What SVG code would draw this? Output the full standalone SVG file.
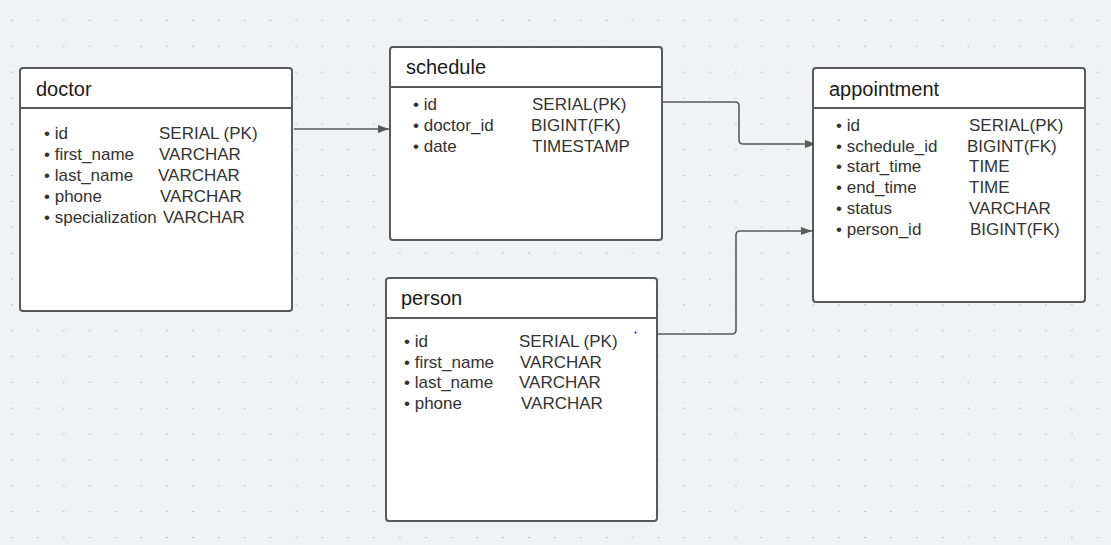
<svg xmlns="http://www.w3.org/2000/svg" width="1111" height="545" viewBox="0 0 1111 545">
<style>
.box{fill:#fff;stroke:#5a5a5a;stroke-width:2}
.hdr{stroke:#5a5a5a;stroke-width:2}
.title{font-family:"Liberation Sans",Arial,sans-serif;font-size:20px;fill:#1a1a1a}
.f{font-family:"Liberation Sans",Arial,sans-serif;font-size:17px;fill:#333}
.conn{fill:none;stroke:#5a5a5a;stroke-width:1.6;stroke-linejoin:round}
</style>
<defs>
<pattern id="grid" x="12" y="20" width="25.85" height="25.85" patternUnits="userSpaceOnUse">
<rect x="-0.7" y="-0.7" width="1.4" height="1.4" fill="#8a8a8a"/>
<rect x="25.15" y="-0.7" width="1.4" height="1.4" fill="#8a8a8a"/>
</pattern>
<marker id="arr" viewBox="0 0 11 8" refX="11" refY="4" markerWidth="11" markerHeight="8" markerUnits="userSpaceOnUse" orient="auto">
<path d="M0,0 L11,4 L0,8 z" fill="#5a5a5a"/>
</marker>
</defs>
<rect width="1111" height="545" fill="#f1f2f5"/>
<rect width="1111" height="545" fill="url(#grid)"/>

<g id="connectors">
<path class="conn" d="M294,129 H389" marker-end="url(#arr)"/>
<path class="conn" d="M662,102 H735 Q739,102 739,106 V140 Q739,144 743,144 H816" marker-end="url(#arr)"/>
<path class="conn" d="M658,334 H732 Q736,334 736,330 V235 Q736,231 740,231 H812" marker-end="url(#arr)"/>
</g>

<g id="doctor">
<rect class="box" x="20" y="68" width="272" height="243" rx="3"/>
<line class="hdr" x1="20" y1="108" x2="292" y2="108"/>
<text class="title" x="36" y="96">doctor</text>
<text class="f" x="44" y="139">• id</text><text class="f" x="159" y="139">SERIAL (PK)</text>
<text class="f" x="44" y="160">• first_name</text><text class="f" x="159" y="160">VARCHAR</text>
<text class="f" x="44" y="181">• last_name</text><text class="f" x="158" y="181">VARCHAR</text>
<text class="f" x="44" y="202">• phone</text><text class="f" x="160" y="202">VARCHAR</text>
<text class="f" x="44" y="223">• specialization</text><text class="f" x="163" y="223">VARCHAR</text>
</g>

<g id="schedule">
<rect class="box" x="390" y="47" width="272" height="193" rx="3"/>
<line class="hdr" x1="390" y1="87" x2="662" y2="87"/>
<text class="title" x="406" y="74">schedule</text>
<text class="f" x="413" y="110">• id</text><text class="f" x="532" y="110">SERIAL(PK)</text>
<text class="f" x="413" y="131">• doctor_id</text><text class="f" x="531" y="131">BIGINT(FK)</text>
<text class="f" x="413" y="152">• date</text><text class="f" x="532" y="152">TIMESTAMP</text>
</g>

<g id="appointment">
<rect class="box" x="813" y="68" width="272" height="234" rx="3"/>
<line class="hdr" x1="813" y1="108" x2="1085" y2="108"/>
<text class="title" x="829" y="96">appointment</text>
<text class="f" x="836" y="131">• id</text><text class="f" x="969" y="131">SERIAL(PK)</text>
<text class="f" x="836" y="152">• schedule_id</text><text class="f" x="967" y="152">BIGINT(FK)</text>
<text class="f" x="836" y="172">• start_time</text><text class="f" x="969" y="172">TIME</text>
<text class="f" x="836" y="193">• end_time</text><text class="f" x="969" y="193">TIME</text>
<text class="f" x="836" y="214">• status</text><text class="f" x="969" y="214">VARCHAR</text>
<text class="f" x="836" y="235">• person_id</text><text class="f" x="970" y="235">BIGINT(FK)</text>
</g>

<g id="person">
<rect class="box" x="386" y="278" width="271" height="243" rx="3"/>
<line class="hdr" x1="386" y1="318" x2="657" y2="318"/>
<text class="title" x="401" y="305">person</text>
<text class="f" x="404" y="347">• id</text><text class="f" x="519" y="347">SERIAL (PK)</text>
<text class="f" x="404" y="368">• first_name</text><text class="f" x="520" y="368">VARCHAR</text>
<text class="f" x="404" y="388">• last_name</text><text class="f" x="519" y="388">VARCHAR</text>
<text class="f" x="404" y="409">• phone</text><text class="f" x="521" y="409">VARCHAR</text>
<circle cx="635.5" cy="332.5" r="1" fill="#0000ee"/>
</g>
</svg>
